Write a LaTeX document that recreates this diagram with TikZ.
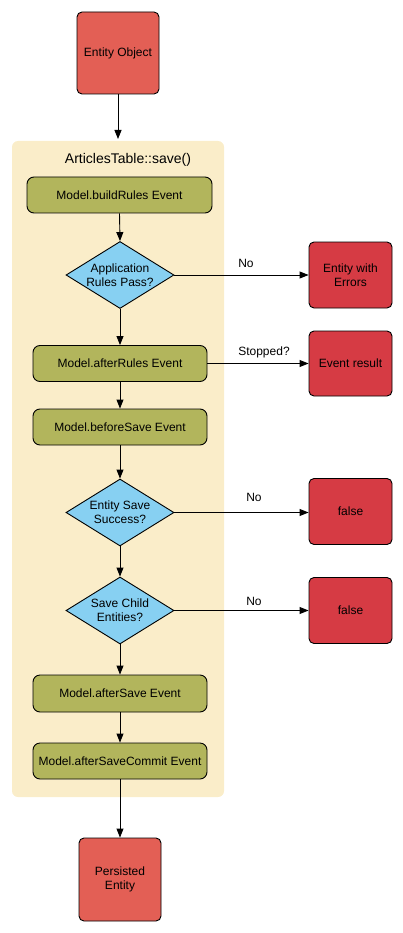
\documentclass[tikz,border=0pt]{standalone}
\usepackage{fontspec}
\setmainfont{Liberation Sans}
\usetikzlibrary{arrows.meta,shapes.geometric}
\definecolor{entred}{HTML}{E35F55}
\definecolor{errred}{HTML}{D63B44}
\definecolor{olive}{HTML}{B2B55C}
\definecolor{skyblue}{HTML}{87D0F2}
\definecolor{cream}{HTML}{FAEDC9}
\tikzset{
  base/.style={draw=black, line width=0.9pt, font=\fontsize{12}{14}\selectfont, align=center, inner sep=0pt},
  entbox/.style={base, fill=entred, rounded corners=5pt, minimum width=82pt, minimum height=82pt},
  errbox/.style={base, fill=errred, rounded corners=5pt, minimum width=83pt, minimum height=66pt},
  evbox/.style={base, fill=olive, rounded corners=7pt, minimum width=174pt, minimum height=36pt},
  decision/.style={base, diamond, fill=skyblue, aspect=1.61, minimum width=108pt, minimum height=67pt, inner sep=0pt},
  conn/.style={line width=0.9pt, -{Triangle[length=9pt,width=7pt]}},
  lbl/.style={font=\fontsize{12}{14}\selectfont, inner sep=0pt}
}
\begin{document}
\begin{tikzpicture}[x=1pt,y=-1pt]
\useasboundingbox (0,0) rectangle (403,933);
\fill[cream, rounded corners=6pt] (12,141) rectangle (224,797);
\node[lbl, font=\fontsize{14}{16}\selectfont] (title) at (128,160) {ArticlesTable::save()};
\node[entbox] (eo) at (118,53) {Entity Object};
\node[evbox, minimum width=185pt] (br) at (119.5,195) {Model.buildRules Event};
\node[decision] (d1) at (120,275) {Application\\Rules Pass?};
\node[errbox] (ewe) at (350.5,275) {Entity with\\Errors};
\node[evbox] (ar) at (120,363.5) {Model.afterRules Event};
\node[errbox, minimum height=65pt] (er) at (350.5,363.5) {Event result};
\node[evbox] (bs) at (120,427) {Model.beforeSave Event};
\node[decision] (d2) at (120,512.5) {Entity Save\\Success?};
\node[errbox] (f1) at (350.5,511.5) {false};
\node[decision] (d3) at (120,610.5) {Save Child\\Entities?};
\node[errbox] (f2) at (350.5,610.5) {false};
\node[evbox, minimum height=37pt] (as) at (120,693.5) {Model.afterSave Event};
\node[evbox] (asc) at (120,761) {Model.afterSaveCommit Event};
\node[entbox, minimum height=83pt] (pe) at (120,879.5) {Persisted\\Entity};
\coordinate (cin) at (118,139);
\draw[conn] (eo.south) -- (cin);
\draw[conn] (br.south) -- (d1.north);
\draw[conn] (d1.south) -- (ar.north);
\draw[conn] (ar.south) -- (bs.north);
\draw[conn] (bs.south) -- (d2.north);
\draw[conn] (d2.south) -- (d3.north);
\draw[conn] (d3.south) -- (as.north);
\draw[conn] (as.south) -- (asc.north);
\draw[conn] (asc.south) -- (pe.north);
\draw[conn] (d1.east) -- (ewe.west |- d1.east);
\draw[conn] (ar.east) -- (er.west |- ar.east);
\draw[conn] (d2.east) -- (f1.west |- d2.east);
\draw[conn] (d3.east) -- (f2.west);
\node[lbl] (n1) at (246,263) {No};
\node[lbl] (n2) at (264,352) {Stopped?};
\node[lbl] (n3) at (254,497) {No};
\node[lbl] (n4) at (254,601) {No};
\end{tikzpicture}
\end{document}
